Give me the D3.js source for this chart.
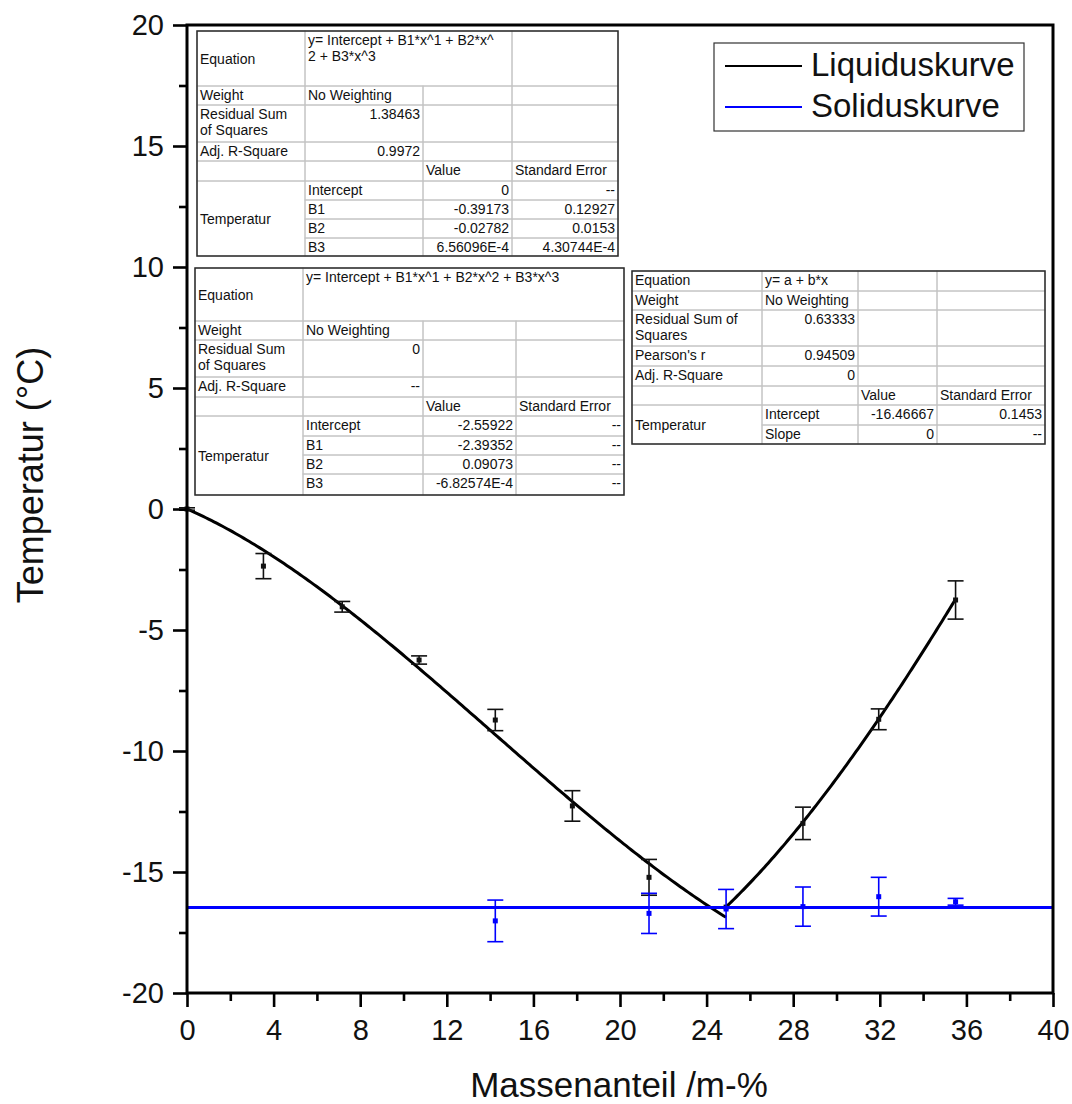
<!DOCTYPE html>
<html><head><meta charset="utf-8">
<script src="https://cdn.jsdelivr.net/npm/d3@7"></script>
<style>
body{margin:0;background:#fff}
svg{display:block}
text{font-family:"Liberation Sans",Arial,Helvetica,sans-serif}
</style>
</head><body>
<svg id="chart" width="1072" height="1104"></svg>
<script>
// ---------------- DATA ----------------
const xTickValues = [0, 4, 8, 12, 16, 20, 24, 28, 32, 36, 40];
const xMinorTicks = [2, 6, 10, 14, 18, 22, 26, 30, 34, 38];
const yTickValues = [-20, -15, -10, -5, 0, 5, 10, 15, 20];
const yMinorTicks = [-17.5, -12.5, -7.5, -2.5, 2.5, 7.5, 12.5, 17.5];

const seriesNames = ["Liquiduskurve", "Soliduskurve"];
const xTitle = "Massenanteil /m-%";
const yTitle = "Temperatur (°C)";

// Liquidus measurements (black)
const liqX   = [0, 3.53, 7.17, 10.72, 14.24, 17.8, 21.34, 24.9, 28.45, 31.95, 35.5];
const liqY   = [0, -2.36, -4.04, -6.24, -8.72, -12.27, -15.22, -16.45, -12.99, -8.69, -3.76];
const liqErr = [0.05, 0.52, 0.22, 0.17, 0.44, 0.63, 0.74, 0, 0.67, 0.43, 0.79];

// Solidus measurements (blue)
const solX   = [14.24, 21.34, 24.9, 28.45, 31.95, 35.5];
const solY   = [-17.02, -16.71, -16.53, -16.43, -16.02, -16.23];
const solErr = [0.86, 0.83, 0.81, 0.81, 0.80, 0.14];

// Fit curves (coefficients as printed in the chart's tables)
const fitLeftCoef   = [0, -0.39173, -0.02782, 6.56096e-4];
const fitLeftRange  = [0, 24.9];
const fitRightCoef  = [-2.55922, -2.39352, 0.09073, -6.82574e-4];
const fitRightRange = [24.9, 35.5];
const solidusFit    = [-16.46667, 0];   // a, b
const solidusRange  = [0, 40];

// Fit report tables: [row, col, rowspan, colspan, text, align, valign]
const table1Cells = [
  [0,0,1,1,"Equation","l","m"], [0,1,1,2,"y= Intercept + B1*x^1 + B2*x^\n2 + B3*x^3","l","t"], [0,3,1,1,""],
  [1,0,1,1,"Weight"], [1,1,1,1,"No Weighting"], [1,2,1,1,""], [1,3,1,1,""],
  [2,0,1,1,"Residual Sum\nof Squares"], [2,1,1,1,"1.38463","r"], [2,2,1,1,""], [2,3,1,1,""],
  [3,0,1,1,"Adj. R-Square"], [3,1,1,1,"0.9972","r"], [3,2,1,1,""], [3,3,1,1,""],
  [4,0,1,1,""], [4,1,1,1,""], [4,2,1,1,"Value"], [4,3,1,1,"Standard Error"],
  [5,0,4,1,"Temperatur","l","m"], [5,1,1,1,"Intercept"], [5,2,1,1,"0","r"], [5,3,1,1,"--","r"],
  [6,1,1,1,"B1"], [6,2,1,1,"-0.39173","r"], [6,3,1,1,"0.12927","r"],
  [7,1,1,1,"B2"], [7,2,1,1,"-0.02782","r"], [7,3,1,1,"0.0153","r"],
  [8,1,1,1,"B3"], [8,2,1,1,"6.56096E-4","r"], [8,3,1,1,"4.30744E-4","r"]
];
const table2Cells = [
  [0,0,1,1,"Equation","l","m"], [0,1,1,3,"y= Intercept + B1*x^1 + B2*x^2 + B3*x^3","l","t"],
  [1,0,1,1,"Weight"], [1,1,1,1,"No Weighting"], [1,2,1,1,""], [1,3,1,1,""],
  [2,0,1,1,"Residual Sum\nof Squares"], [2,1,1,1,"0","r"], [2,2,1,1,""], [2,3,1,1,""],
  [3,0,1,1,"Adj. R-Square"], [3,1,1,1,"--","r"], [3,2,1,1,""], [3,3,1,1,""],
  [4,0,1,1,""], [4,1,1,1,""], [4,2,1,1,"Value"], [4,3,1,1,"Standard Error"],
  [5,0,4,1,"Temperatur","l","m"], [5,1,1,1,"Intercept"], [5,2,1,1,"-2.55922","r"], [5,3,1,1,"--","r"],
  [6,1,1,1,"B1"], [6,2,1,1,"-2.39352","r"], [6,3,1,1,"--","r"],
  [7,1,1,1,"B2"], [7,2,1,1,"0.09073","r"], [7,3,1,1,"--","r"],
  [8,1,1,1,"B3"], [8,2,1,1,"-6.82574E-4","r"], [8,3,1,1,"--","r"]
];
const table3Cells = [
  [0,0,1,1,"Equation"], [0,1,1,1,"y= a + b*x"], [0,2,1,1,""], [0,3,1,1,""],
  [1,0,1,1,"Weight"], [1,1,1,1,"No Weighting"], [1,2,1,1,""], [1,3,1,1,""],
  [2,0,1,1,"Residual Sum of\nSquares"], [2,1,1,1,"0.63333","r"], [2,2,1,1,""], [2,3,1,1,""],
  [3,0,1,1,"Pearson's r"], [3,1,1,1,"0.94509","r"], [3,2,1,1,""], [3,3,1,1,""],
  [4,0,1,1,"Adj. R-Square"], [4,1,1,1,"0","r"], [4,2,1,1,""], [4,3,1,1,""],
  [5,0,1,1,""], [5,1,1,1,""], [5,2,1,1,"Value"], [5,3,1,1,"Standard Error"],
  [6,0,2,1,"Temperatur","l","m"], [6,1,1,1,"Intercept"], [6,2,1,1,"-16.46667","r"], [6,3,1,1,"0.1453","r"],
  [7,1,1,1,"Slope"], [7,2,1,1,"0","r"], [7,3,1,1,"--","r"]
];

// ---------------- LAYOUT ----------------
const svg = d3.select("#chart");
const L = 187, R = 1053, T = 25, B = 993;
const x = d3.scaleLinear().domain([0, 40]).range([L, R]);
const y = d3.scaleLinear().domain([-20, 20]).range([B, T]);

svg.append("rect").attr("width", 1072).attr("height", 1104).attr("fill", "#fff");

// ---------------- TABLES ----------------
function drawTable(cells, xEdges, yEdges) {
  const g = svg.append("g");
  g.append("rect")
    .attr("x", xEdges[0]).attr("y", yEdges[0])
    .attr("width", xEdges[xEdges.length-1] - xEdges[0])
    .attr("height", yEdges[yEdges.length-1] - yEdges[0])
    .attr("fill", "#fff");
  cells.forEach(c => {
    const [r, col, rs, cs, txt, al, va] = c;
    const x0 = xEdges[col], x1 = xEdges[col+cs];
    const y0 = yEdges[r], y1 = yEdges[r+rs];
    g.append("rect").attr("x", x0).attr("y", y0)
      .attr("width", x1 - x0).attr("height", y1 - y0)
      .attr("fill", "none").attr("stroke", "#c4c4c4").attr("stroke-width", 1);
    if (!txt) return;
    const lines = txt.split("\n");
    const lh = 16;
    let base = y0 + 14;
    if (va === "m") base = (y0 + y1) / 2 - (lines.length - 1) * lh / 2 + 5;
    const t = g.append("text")
      .attr("font-size", 14).attr("fill", "#111")
      .attr("text-anchor", al === "r" ? "end" : "start");
    lines.forEach((ln, i) => {
      t.append("tspan")
        .attr("x", al === "r" ? x1 - 3 : x0 + 3)
        .attr("y", base + i * lh)
        .text(ln);
    });
  });
  g.append("rect")
    .attr("x", xEdges[0]).attr("y", yEdges[0])
    .attr("width", xEdges[xEdges.length-1] - xEdges[0])
    .attr("height", yEdges[yEdges.length-1] - yEdges[0])
    .attr("fill", "none").attr("stroke", "#2a2a2a").attr("stroke-width", 1.5);
}
drawTable(table1Cells, [197, 305, 423, 512, 618], [31, 86, 105, 142, 161, 181, 200, 219, 238, 256]);
drawTable(table2Cells, [195, 303, 423, 516, 624], [268, 321, 340, 377, 397, 416, 436, 455, 474, 495]);
drawTable(table3Cells, [632, 762, 858, 937, 1045], [271, 291, 310, 346, 366, 386, 405, 425, 444]);

// ---------------- FIT CURVES ----------------
function poly(coef, v) { return coef.reduce((s, c, i) => s + c * Math.pow(v, i), 0); }
function curvePoints(coef, range, n) {
  const pts = [];
  for (let i = 0; i <= n; i++) {
    const xv = range[0] + (range[1] - range[0]) * i / n;
    pts.push([xv, poly(coef, xv)]);
  }
  return pts;
}
const line = d3.line().x(d => x(d[0])).y(d => y(d[1]));

svg.append("path").datum(curvePoints(fitLeftCoef, fitLeftRange, 200))
  .attr("d", line).attr("fill", "none").attr("stroke", "#000").attr("stroke-width", 3);
svg.append("path").datum(curvePoints(fitRightCoef, fitRightRange, 120))
  .attr("d", line).attr("fill", "none").attr("stroke", "#000").attr("stroke-width", 3);

// ---------------- POINTS + ERROR BARS ----------------
function drawPoints(xs, ys, es, color) {
  const g = svg.append("g");
  xs.forEach((xv, i) => {
    const px = x(xv), yt = y(ys[i] + es[i]), yb = y(ys[i] - es[i]);
    if (es[i] > 0) {
      g.append("line").attr("x1", px).attr("x2", px).attr("y1", yt).attr("y2", yb)
        .attr("stroke", color).attr("stroke-width", 1.6);
      [yt, yb].forEach(yy => g.append("line")
        .attr("x1", px - 8).attr("x2", px + 8).attr("y1", yy).attr("y2", yy)
        .attr("stroke", color).attr("stroke-width", 1.6));
    }
    g.append("rect").attr("x", px - 2.5).attr("y", y(ys[i]) - 2.5)
      .attr("width", 5).attr("height", 5).attr("fill", color);
  });
}
drawPoints(liqX, liqY, liqErr, "#111");

svg.append("path").datum(solidusRange.map(v => [v, solidusFit[0] + solidusFit[1] * v]))
  .attr("d", line).attr("fill", "none").attr("stroke", "#0000ff").attr("stroke-width", 3);
drawPoints(solX, solY, solErr, "#0000ff");

// ---------------- AXES ----------------
const fmt = d => String(d);
const gx = svg.append("g").attr("transform", `translate(0,${B})`)
  .call(d3.axisBottom(x).tickValues(xTickValues).tickSize(14).tickPadding(12).tickFormat(fmt));
const gxm = svg.append("g").attr("transform", `translate(0,${B})`)
  .call(d3.axisBottom(x).tickValues(xMinorTicks).tickSize(8).tickFormat(""));
const gy = svg.append("g").attr("transform", `translate(${L},0)`)
  .call(d3.axisLeft(y).tickValues(yTickValues).tickSize(14).tickPadding(9).tickFormat(fmt));
const gym = svg.append("g").attr("transform", `translate(${L},0)`)
  .call(d3.axisLeft(y).tickValues(yMinorTicks).tickSize(8).tickFormat(""));
[gx, gxm, gy, gym].forEach(g => {
  g.select(".domain").remove();
  g.selectAll(".tick line").attr("stroke", "#000").attr("stroke-width", 2.6);
  g.selectAll(".tick text").attr("font-size", 29).attr("fill", "#111")
    .attr("font-family", "'Liberation Sans', Arial, sans-serif");
});

// frame
svg.append("rect").attr("x", L).attr("y", T).attr("width", R - L).attr("height", B - T)
  .attr("fill", "none").attr("stroke", "#000").attr("stroke-width", 3);

// axis titles
svg.append("text").attr("x", 619).attr("y", 1097).attr("text-anchor", "middle")
  .attr("font-size", 35).attr("fill", "#111").text(xTitle);
svg.append("text").attr("transform", "translate(43,475) rotate(-90)")
  .attr("text-anchor", "middle").attr("font-size", 36).attr("fill", "#111").text(yTitle);

// ---------------- LEGEND ----------------
const lg = svg.append("g");
lg.append("rect").attr("x", 714).attr("y", 43).attr("width", 310).attr("height", 88)
  .attr("fill", "#fff").attr("stroke", "#333").attr("stroke-width", 1.2);
const legColors = ["#000", "#0000ff"];
const legY = [66, 107];
seriesNames.forEach((n, i) => {
  lg.append("line").attr("x1", 725).attr("x2", 802).attr("y1", legY[i]).attr("y2", legY[i])
    .attr("stroke", legColors[i]).attr("stroke-width", 2);
  lg.append("text").attr("x", 811).attr("y", legY[i] + 10).attr("font-size", 33)
    .attr("fill", "#111").text(n);
});
</script>
</body></html>
